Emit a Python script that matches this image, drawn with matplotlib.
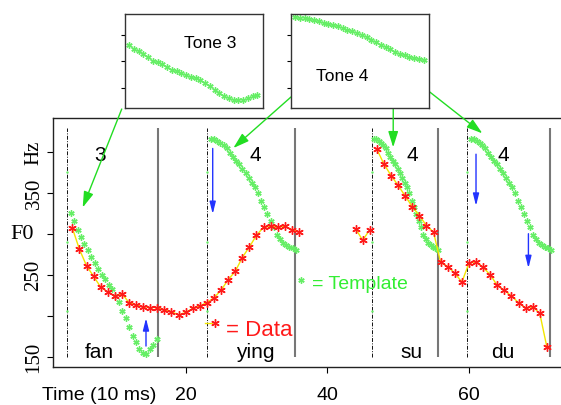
import numpy as np
import matplotlib
matplotlib.use("Agg")
from matplotlib import pyplot as plt

plt.rcParams['font.family'] = ['Liberation Sans', 'DejaVu Sans']

# measured F0 (Hz), one frame = 10 ms
t_fan_ying = np.arange(4, 37)
f0_fan_ying = [307, 281, 261, 248, 235, 229, 224, 227, 216, 213,
               211, 210, 210, 207, 205, 201, 204, 209, 212, 216,
               222, 231, 244, 254, 271, 284, 298, 308, 309, 308,
               309, 305, 302]
t_gap = [44, 45, 46]
f0_gap = [306, 292, 305]
t_su_du = np.arange(47, 72)
f0_su_du = [403, 385, 371, 359, 346, 333, 322, 310, 302, 265,
            260, 252, 241, 264, 266, 259, 250, 237, 231, 224,
            216, 209, 211, 203, 162]

# tone templates fitted on the syllables (Hz)
tone3_fit = [325, 315, 305, 296, 287, 280, 272, 264, 257, 250,
             245, 238, 233, 224, 217, 206, 197, 186, 175, 168,
             159, 155, 153, 159, 164, 171]
tone4_fit = [416, 415, 413, 411, 408, 404, 398, 393, 389, 385,
             379, 374, 368, 362, 357, 350, 340, 332, 324, 316,
             308, 299, 293, 289, 286, 284, 282, 280]

# syllables
syllables = ["fan", "ying", "su", "du"]
tones = ["3", "4", "4", "4"]
seg_start = [3.2, 23.0, 46.3, 59.7]
seg_end = [16.05, 35.5, 55.6, 71.5]
tmpl_span = [(3.77, 15.91), (23.58, 35.54), (46.59, 55.58), (60.24, 71.54)]

# raw templates shown in the small boxes
tone3_raw = [1.61, 1.46, 1.375, 1.275, 1.175, 1.025, 0.96, 0.89, 0.775, 0.69,
             0.625, 0.56, 0.5, 0.425, 0.36, 0.3, 0.19, 0.06, -0.075, -0.2,
             -0.31, -0.39, -0.44, -0.44, -0.44, -0.39, -0.31, -0.25]
tone4_raw = [2.675, 2.64, 2.61, 2.59, 2.55, 2.5, 2.45, 2.41, 2.375, 2.31,
             2.25, 2.19, 2.125, 2.06, 1.99, 1.9, 1.81, 1.725, 1.625, 1.54,
             1.45, 1.36, 1.29, 1.24, 1.175, 1.125, 1.075, 1.05]

GREEN = '#66ee66'
RED = '#ff1a1a'
ast = (6, 2, 0)

fig = plt.figure(figsize=(5.61, 4.06), dpi=100)
ax = fig.add_axes([0.095, 0.0943, 0.905, 0.6133])

for x in seg_start:
    ax.vlines(x, 150, 429, color='#111111', lw=0.7, linestyles=(0, (4, 1.5, 1, 1.5)))
    ax.plot([x, x, x], [375, 290, 206], '.', color=GREEN, ms=1.5)
for x in seg_end:
    ax.vlines(x, 150, 429, color='#777777', lw=1.5)

# templates
templates = [tone3_fit, tone4_fit, tone4_fit, tone4_fit]
for (a, b), vals in zip(tmpl_span, templates):
    xs = np.linspace(a, b, len(vals))
    ax.plot(xs, vals, ls='none', marker=ast, ms=4.5, mew=1.0, color=GREEN)

# data
for t, f in [(t_fan_ying, f0_fan_ying), (t_gap, f0_gap), (t_su_du, f0_su_du)]:
    ax.plot(t, f, color='#f2e600', lw=1.0, zorder=3)
    ax.plot(t, f, ls='none', marker=ast, ms=6, mew=1.0, color=RED, zorder=4)

# labels for syllables and tones
label_x = [7.8, 29.8, 51.9, 64.85]
tone_x = [7.9, 29.9, 52.05, 64.9]
for s, tn, lx, tx in zip(syllables, tones, label_x, tone_x):
    ax.text(lx, 150, s, ha='center', va='baseline', fontsize=15)
    ax.text(tx, 397, tn, ha='center', va='center', fontsize=15)

# legend-like labels
ax.plot([22.73, 23.67], [191, 191], color='#f2e600', lw=1.0)
ax.plot([24.1], [191], ls='none', marker=ast, ms=6, mew=1.0, color=RED)
ax.text(25.65, 183, '= Data', color=RED, fontsize=16, va='center', ha='left')
ax.plot([36.28], [243.5], ls='none', marker=ast, ms=4.5, mew=1.0, color=GREEN, clip_on=False)
ax.text(37.8, 238.7, '= Template', color='#33ee33', fontsize=14, va='center', ha='left')

# blue arrows (shift direction)
blue = [(23.82, 404, 324), (14.4, 163, 197), (61.0, 397, 334), (68.4, 300, 258)]
for x, f1, f2 in blue:
    ax.annotate('', xy=(x, f2), xytext=(x, f1),
                arrowprops=dict(arrowstyle='-|>,head_width=0.15,head_length=0.6',
                                color='#2233ff', lw=1.0, mutation_scale=12,
                                shrinkA=0, shrinkB=0))

ax.set_xlim(1.31, 73.0)
ax.set_ylim(137.8, 441.5)
ax.set_xticks([20, 40, 60])
ax.set_xticklabels(['20', '40', '60'], fontsize=14)
ax.set_yticks([150, 200, 250, 300, 350, 400])
ax.set_yticklabels(['150', '', '250', '', '350', 'Hz'], rotation=90, va='center',
                   family='Liberation Serif', fontsize=15)
ax.tick_params(axis='x', direction='out', length=4, width=0.8, pad=10)
ax.tick_params(axis='y', direction='out', length=4, width=0.8, pad=3)
ax.spines['right'].set_visible(False)
for sp in ['left', 'bottom', 'top']:
    ax.spines[sp].set_color('#222222')
    ax.spines[sp].set_linewidth(1.0)

ax.text(-3.04, 300, 'F0', family='Liberation Serif', fontsize=16,
        ha='center', va='center', clip_on=False)
ax.text(-0.32, 98.4, 'Time (10 ms)', fontsize=14, ha='left', va='baseline', clip_on=False)

# green arrows from template boxes
green_arrows = [((5.46, 332), (0.217, 0.729)),
                ((26.73, 404.5), (0.519, 0.759)),
                ((49.3, 405.4), (0.701, 0.731)),
                ((61.9, 422.4), (0.766, 0.771))]
for tip, start in green_arrows:
    ax.annotate('', xy=tip, xycoords='data', xytext=start, textcoords='figure fraction',
                arrowprops=dict(arrowstyle='-|>,head_width=0.25,head_length=0.8',
                                color='#22dd22', lw=1.0, mutation_scale=12,
                                shrinkA=0, shrinkB=0),
                annotation_clip=False)

# inset boxes with raw templates
insets = [([0.2228, 0.7308, 0.2455, 0.233], tone3_raw, 'Tone 3', (0.617, 0.698)),
          ([0.5187, 0.7308, 0.246, 0.233], tone4_raw, 'Tone 4', (0.372, 0.345))]
for pos, vals, name, tpos in insets:
    ia = fig.add_axes(pos)
    ia.plot(np.arange(len(vals)), vals, ls='none', marker=ast, ms=4.5, mew=1.0, color=GREEN)
    ia.set_xlim(-0.84, 28.1)
    ia.set_ylim(-0.76, 2.79)
    ia.set_xticks([])
    ia.set_yticks([0, 1, 2])
    ia.set_yticklabels([])
    ia.tick_params(axis='y', direction='out', length=3, width=0.8)
    for sp in ia.spines.values():
        sp.set_color('#333333')
        sp.set_linewidth(1.0)
    ia.text(tpos[0], tpos[1], name, transform=ia.transAxes, fontsize=12.5,
            ha='center', va='center')

fig.savefig('out.png', dpi=100)
